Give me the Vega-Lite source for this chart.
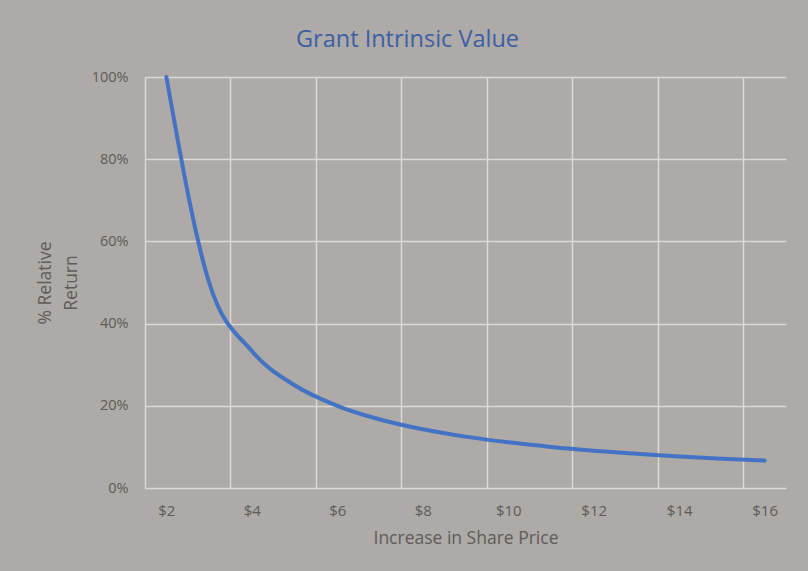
{
  "$schema": "https://vega.github.io/schema/vega-lite/v6.json",
  "width": 641,
  "height": 411,
  "autosize": {"type": "none"},
  "padding": {"left": 145, "top": 77, "right": 22, "bottom": 83},
  "background": "#adaaa7",
  "config": {
    "view": {"stroke": null},
    "font": "Open Sans"
  },
  "title": {
    "text": "Grant Intrinsic Value",
    "anchor": "middle",
    "frame": "group",
    "dx": -58,
    "offset": 18,
    "fontSize": 23.5,
    "fontWeight": "normal",
    "color": "#3c5fa6",
    "font": "Open Sans"
  },
  "data": {
    "values": [
      {"price": 2, "ret": 1.0},
      {"price": 3, "ret": 0.5},
      {"price": 4, "ret": 0.3333},
      {"price": 5, "ret": 0.25},
      {"price": 6, "ret": 0.2},
      {"price": 7, "ret": 0.1667},
      {"price": 8, "ret": 0.1429},
      {"price": 9, "ret": 0.125},
      {"price": 10, "ret": 0.1111},
      {"price": 11, "ret": 0.1},
      {"price": 12, "ret": 0.0909},
      {"price": 13, "ret": 0.0833},
      {"price": 14, "ret": 0.0769},
      {"price": 15, "ret": 0.0714},
      {"price": 16, "ret": 0.0667}
    ]
  },
  "mark": {"type": "line", "color": "#4472c4", "strokeWidth": 4, "interpolate": "monotone", "strokeCap": "round"},
  "encoding": {
    "x": {
      "field": "price",
      "type": "quantitative",
      "scale": {"domain": [1.5, 16.5], "nice": false, "zero": false},
      "axis": {
        "values": [1.5, 3.5, 5.5, 7.5, 9.5, 11.5, 13.5, 15.5],
        "labelExpr": "'$' + (datum.value + 0.5)",
        "labelOffset": 21.37,
        "labelAngle": 0,
        "labelFlush": false,
        "labelOverlap": false,
        "grid": true,
        "gridColor": "#dcd9d6",
        "gridWidth": 1.5,
        "domain": false,
        "ticks": false,
        "tickSize": 0,
        "labelPadding": 22,
        "labelBaseline": "middle",
        "labelFontSize": 15,
        "labelColor": "#5e5c5a",
        "title": "Increase in Share Price",
        "titleFontSize": 17.5,
        "titleFontWeight": "normal",
        "titleColor": "#5e5c5a",
        "titleBaseline": "middle",
        "titleY": 50
      }
    },
    "y": {
      "field": "ret",
      "type": "quantitative",
      "scale": {"domain": [0, 1], "nice": false},
      "axis": {
        "values": [0, 0.2, 0.4, 0.6, 0.8, 1.0],
        "format": ".0%",
        "grid": true,
        "gridColor": "#dcd9d6",
        "gridWidth": 1.5,
        "domain": false,
        "ticks": false,
        "tickSize": 0,
        "labelPadding": 17,
        "labelFontSize": 14.5,
        "labelColor": "#5e5c5a",
        "title": ["% Relative", "Return"],
        "titleFontSize": 17.5,
        "titleLineHeight": 26,
        "titleFontWeight": "normal",
        "titleColor": "#5e5c5a",
        "titleBaseline": "middle",
        "titleX": -100,
        "titleY": 205.5,
        "titleAngle": -90
      }
    }
  }
}
